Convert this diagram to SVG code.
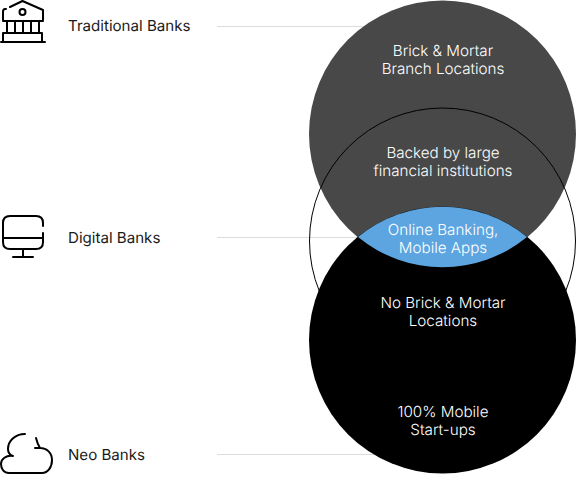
<svg xmlns="http://www.w3.org/2000/svg" width="576" height="498" viewBox="0 0 576 498">
<style>
text{font-family:Inter,"Liberation Sans",sans-serif;font-size:15px;text-rendering:geometricPrecision}
.w{fill:#fff;text-anchor:middle;font-weight:350;font-size:15.200px}
.l{fill:#1a1a1a;font-size:15.100px}
.i{fill:none;stroke:#000;stroke-width:2;stroke-linecap:round;stroke-linejoin:round}
.g{stroke:#dcdcdc;stroke-width:1}
</style>
<rect width="576" height="498" fill="#fff"/>
<circle id="digital-fill" cx="442.500" cy="241" r="133" fill="#fff"/>
<g id="connectors">
<line class="g" x1="217" y1="26.500" x2="380" y2="26.500"/>
<line class="g" x1="217" y1="237.500" x2="360" y2="237.500"/>
<line class="g" x1="217" y1="454.500" x2="380" y2="454.500"/>
</g>
<g id="venn">
<circle id="traditional-circle" cx="442.500" cy="134" r="133.500" fill="#484848"/>
<circle id="neo-circle" cx="442.500" cy="340" r="133.500" fill="#000"/>
<path id="overlap" d="M358 237A133.500 133.500 0 0 1 527 237A133.500 133.500 0 0 1 358 237Z" fill="#5ca5e0"/>
<circle id="digital-circle" cx="442.500" cy="241" r="133" fill="none" stroke="#000" stroke-width="1"/>
</g>
<g id="n1"><text class="w" x="443" y="56">Brick &amp; Mortar</text><text class="w" x="443" y="74">Branch Locations</text></g>
<g id="n2"><text class="w" x="443" y="158">Backed by large</text><text class="w" x="443" y="176">financial institutions</text></g>
<g id="n3"><text class="w" x="443" y="235">Online Banking,</text><text class="w" x="443" y="253">Mobile Apps</text></g>
<g id="n4"><text class="w" x="443" y="308">No Brick &amp; Mortar</text><text class="w" x="443" y="326">Locations</text></g>
<g id="n5"><text class="w" x="443" y="417">100% Mobile</text><text class="w" x="443" y="435">Start-ups</text></g>
<g id="traditional"><text class="l" x="68" y="31">Traditional Banks</text>
<path class="i" d="M10 7L22.500 1L43 10V20M6 9H5Q3 9 3 12V20M3 21H43M7 21V33M15 21V33M23 21V33M31 21V33M39 21V33M3 33H42V41M3 33V41M1 42H45"/><circle class="i" cx="22.500" cy="12" r="3"/></g>
<g id="digital"><text class="l" x="68" y="243">Digital Banks</text>
<path class="i" d="M43 226V223Q43 216 36 216H10Q3 216 3 223V242Q3 249 10 249H36Q43 249 43 242V233M3 238H43M23 249V257M13 257H33"/></g>
<g id="neo"><text class="l" x="68" y="460">Neo Banks</text>
<path class="i" d="M25 434C15 434 8 441 8 449C8 452 10 455 13 456C6 455 1 459 1 464C1 469 4 473 9 473H42C48 473 52 467 52 460C52 453 47 448 40 448H35M36 438C37 442 38 445 40 448"/></g>
</svg>
